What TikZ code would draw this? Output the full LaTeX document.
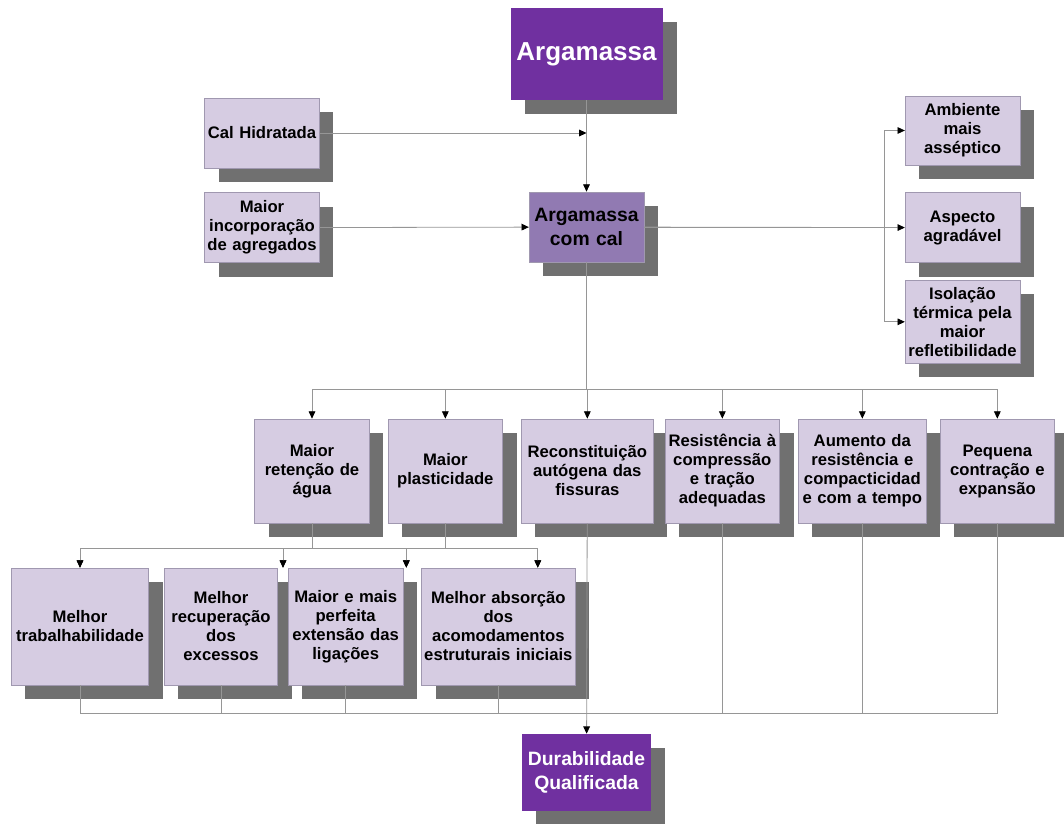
\documentclass[tikz,border=0pt]{standalone}
\usepackage{fontspec}
\setmainfont{Liberation Sans}
\usetikzlibrary{arrows.meta}
\usetikzlibrary{positioning}
\usetikzlibrary{shadows}
\definecolor{deep purple}{RGB}{112,48,160}
\definecolor{mid purple}{RGB}{145,122,178}
\definecolor{box lilac}{RGB}{214,204,226}
\definecolor{box edge}{RGB}{160,152,176}
\definecolor{shadow gray}{RGB}{112,112,112}
\definecolor{link gray}{RGB}{150,150,150}
\tikzset {
  link path/.style = {
    draw = link gray,
    line width = 0.6pt
  },
  % path style with an arrow at the end
  arr/.style = {
    link path,
    -{Triangle[length=5.5pt, width=5pt, color=black]}
  },
  % path style with no arrows
  narr/.style = {
    link path
  }
}
\tikzset {
  block/.style = {
    rectangle,
    align = center,
    inner xsep = 2pt,
    inner ysep = 0pt,
    text width = 82pt,
    minimum height = 52.5pt,
    font = \bfseries\fontsize{12.5}{14.25}\selectfont,
    drop shadow = {shadow xshift=10.5pt, shadow yshift=-10.5pt,
                   fill=shadow gray, opacity=1}
  },
  % light box
  light/.style = {
    block,
    fill = box lilac,
    draw = box edge,
    line width = 0.5pt
  },
  % middle box
  mid/.style = {
    block,
    fill = mid purple,
    draw = box edge,
    line width = 0.5pt,
    font = \bfseries\fontsize{14.5}{17.5}\selectfont
  },
  % dark box
  main/.style = {
    block,
    fill = deep purple,
    text = white,
    font = \bfseries\fontsize{14.5}{17.5}\selectfont
  },
  tall/.style = {
    minimum height = 78pt
  },
  taller/.style = {
    minimum height = 87.75pt
  }
}

\begin{document}
\begin{tikzpicture}[x=0.75pt, y=-0.75pt]
    \useasboundingbox (0,0) rectangle (1064,824);

    \node[main, text width=110pt, minimum height=69pt,
          font=\bfseries\fontsize{19.5}{23}\selectfont] (argamassa) at (586.5,54) {Argamassa};
    \node[light] (cal-hid) at (262,133) {Cal Hidratada};
    \node[light] (maior-inc) [below=18pt of cal-hid] {Maior\\incorporação\\de agregados};
    \node[mid] (com-cal) at (586.5,227) {Argamassa\\com cal};

    \node[light, minimum height=51.75pt] (ambiente) at (962.5,130.5) {Ambiente\\mais\\asséptico};
    \node[light] (aspecto) [below=20.25pt of ambiente] {Aspecto\\agradável};
    \node[light, minimum height=62.25pt] (isolacao) [below=12.75pt of aspecto] {Isolação\\térmica pela\\maior\\refletibilidade};

    \node[light, tall] (retencao) at (312,471) {Maior\\retenção de\\água};
    \node[light, tall] (plastic) [right=13.5pt of retencao] {Maior\\plasticidade};
    \node[light, tall, text width=95pt] (reconst) [right=13.5pt of plastic] {Reconstituição\\autógena das\\fissuras};
    \node[light, tall] (resist) [right=8.25pt of reconst] {Resistência à\\compressão\\e tração\\adequadas};
    \node[light, tall, text width=92pt] (aumento) [right=13.5pt of resist] {Aumento da\\resistência e\\compacticidad\\e com a tempo};
    \node[light, tall] (pequena) [right=9.75pt of aumento] {Pequena\\contração e\\expansão};

    \node[light, taller, text width=99pt] (trab) at (80,626.5) {Melhor\\trabalhabilidade};
    \node[light, taller, text width=81pt] (recup) [right=11.25pt of trab] {Melhor\\recuperação\\dos\\excessos};
    \node[light, taller] (mais) [right=7.5pt of recup] {Maior e mais\\perfeita\\extensão das\\ligações};
    \node[light, taller, text width=114pt, inner xsep=0.5pt] (absorc) [right=13.5pt of mais] {Melhor absorção\\dos\\acomodamentos\\estruturais iniciais};

    \node[main, text width=93pt, minimum height=57.75pt] (durab) at (586.5,772.5) {Durabilidade\\Qualificada};

    \coordinate (right-split) at (884,227);
    \coordinate (row-split) at (586.5,389);
    \coordinate (sub-split) at (312,548);
    \coordinate (merge) at (587,713);
    \coordinate (recup-in) at ([xshift=3.75pt]recup.north east);
    \coordinate (mais-in) at ([xshift=2.25pt]mais.north east);
    \coordinate (absorc-in) at ([xshift=29.6pt]absorc.north);

    \draw[arr] (argamassa) -- (com-cal);
    \draw[arr] (cal-hid) -- (cal-hid -| com-cal);
    \draw[arr] (maior-inc) -- (com-cal);

    \draw[arr] (com-cal) -- (aspecto);
    \draw[arr] (com-cal) -- (right-split) |- (ambiente);
    \draw[arr] (com-cal) -- (right-split) |- (isolacao);

    \foreach \n in {retencao, plastic, reconst, resist, aumento, pequena}
      \draw[arr] (com-cal) -- (row-split) -| (\n);

    \foreach \t in {trab, recup-in, mais-in, absorc-in} {
      \draw[arr] (retencao) -- (retencao |- sub-split) -| (\t);
      \draw[arr] (plastic) -- (plastic |- sub-split) -| (\t);
    }

    \foreach \n in {trab, recup, mais, absorc, resist, aumento, pequena}
      \draw[narr] (\n) |- (merge);
    \draw[arr] (reconst) -- (durab);

\end{tikzpicture}
\end{document}
